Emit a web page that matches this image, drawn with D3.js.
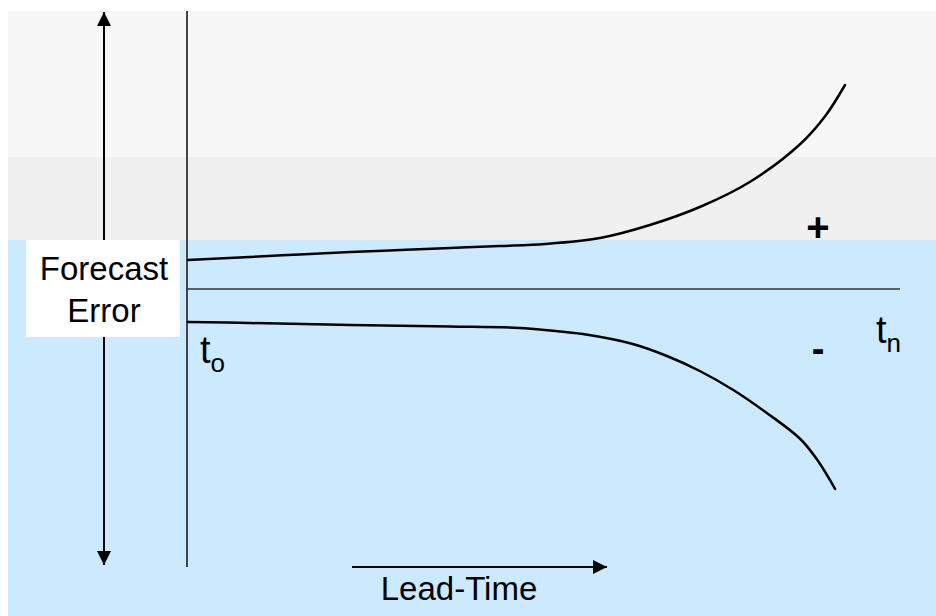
<!DOCTYPE html>
<html>
<head>
<meta charset="utf-8">
<script src="https://cdn.jsdelivr.net/npm/d3@7"></script>
<style>
  html, body { margin: 0; padding: 0; background: #ffffff; }
  svg { display: block; }
  text { font-family: "Liberation Sans", Arial, sans-serif; fill: #000; }
</style>
</head>
<body>
<svg id="chart" width="936" height="616"></svg>
<script>
// ---- data ----
const upperLead  = [0, 9.4, 17, 24.7, 32.3, 39.9, 47.5, 54.3, 62.7, 70.3, 77.9, 85.5, 93.2, 97.0, 100];
const upperError = [29, 32, 34.5, 37, 39, 41, 43, 45, 51, 64, 82, 107, 145, 173, 204];
const lowerLead  = [0, 9.4, 24.7, 39.9, 50.5, 55.1, 60.1, 67.7, 72.9, 77.9, 83, 88.1, 93.2, 95.9, 98.5];
const lowerError = [-33, -34, -36, -37.5, -39, -41.5, -45, -55, -67, -82, -101, -124, -150, -172, -200];
const yAxisLabel = ["Forecast", "Error"];
const xAxisLabel = "Lead-Time";
const startLabel = ["t", "o"];
const endLabel   = ["t", "n"];
const signLabels = ["+", "-"];

// ---- layout ----
const svg = d3.select("#chart");
const x = d3.scaleLinear().domain([0, 100]).range([188, 845]);
const y = d3.scaleLinear().domain([0, 200]).range([289, 89]);

// background bands
svg.append("rect").attr("x", 8).attr("y", 11).attr("width", 928).attr("height", 146).attr("fill", "#f7f7f7");
svg.append("rect").attr("x", 8).attr("y", 157).attr("width", 928).attr("height", 83).attr("fill", "#f0f0f0");
svg.append("rect").attr("x", 8).attr("y", 240).attr("width", 928).attr("height", 376).attr("fill", "#cceafd");

// markers
const defs = svg.append("defs");
defs.append("marker").attr("id", "arrow")
  .attr("viewBox", "0 0 10 10").attr("refX", 10).attr("refY", 5)
  .attr("markerWidth", 14).attr("markerHeight", 14).attr("markerUnits", "userSpaceOnUse")
  .attr("orient", "auto")
  .append("path").attr("d", "M0,0 L10,5 L0,10 Z").attr("fill", "#000");

// vertical double arrow (Forecast Error)
svg.append("line").attr("x1", 104).attr("x2", 104).attr("y1", 565).attr("y2", 12)
  .attr("stroke", "#000").attr("stroke-width", 2).attr("marker-end", "url(#arrow)");
svg.append("line").attr("x1", 104).attr("x2", 104).attr("y1", 12).attr("y2", 565)
  .attr("stroke", "#000").attr("stroke-width", 2).attr("marker-end", "url(#arrow)");

// y axis line
svg.append("line").attr("x1", x(0) - 1).attr("x2", x(0) - 1).attr("y1", 11).attr("y2", 567)
  .attr("stroke", "#444").attr("stroke-width", 2);

// zero line
svg.append("line").attr("x1", x(0) - 1).attr("x2", 900).attr("y1", y(0)).attr("y2", y(0))
  .attr("stroke", "#333").attr("stroke-width", 1.5);

// label box
svg.append("rect").attr("x", 26).attr("y", 240).attr("width", 154).attr("height", 97).attr("fill", "#ffffff");
svg.append("text").attr("x", 104).attr("y", 280).attr("text-anchor", "middle")
  .attr("font-size", 33).text(yAxisLabel[0]);
svg.append("text").attr("x", 104).attr("y", 322).attr("text-anchor", "middle")
  .attr("font-size", 33).text(yAxisLabel[1]);

// curves
const line = d3.line().x(d => x(d[0])).y(d => y(d[1])).curve(d3.curveCatmullRom.alpha(0.5));
svg.append("path").datum(d3.zip(upperLead, upperError)).attr("d", line)
  .attr("fill", "none").attr("stroke", "#000").attr("stroke-width", 2.5).attr("stroke-linecap", "round");
svg.append("path").datum(d3.zip(lowerLead, lowerError)).attr("d", line)
  .attr("fill", "none").attr("stroke", "#000").attr("stroke-width", 2.5).attr("stroke-linecap", "round");

// signs
svg.append("text").attr("x", 818).attr("y", 241).attr("text-anchor", "middle")
  .attr("font-size", 40).attr("font-weight", "bold").text(signLabels[0]);
svg.append("text").attr("x", 818).attr("y", 362).attr("text-anchor", "middle")
  .attr("font-size", 38).attr("font-weight", "bold").text(signLabels[1]);

// t_o and t_n
const t0 = svg.append("text").attr("x", 200).attr("y", 363).attr("font-size", 38);
t0.append("tspan").text(startLabel[0]);
t0.append("tspan").attr("font-size", 26).attr("dy", 9).text(startLabel[1]);
const tn = svg.append("text").attr("x", 876).attr("y", 343).attr("font-size", 38);
tn.append("tspan").text(endLabel[0]);
tn.append("tspan").attr("font-size", 26).attr("dy", 9).text(endLabel[1]);

// lead-time arrow
svg.append("line").attr("x1", 352).attr("x2", 607).attr("y1", 567).attr("y2", 567)
  .attr("stroke", "#000").attr("stroke-width", 2).attr("marker-end", "url(#arrow)");
svg.append("text").attr("x", 459).attr("y", 600).attr("text-anchor", "middle")
  .attr("font-size", 33).text(xAxisLabel);
</script>
</body>
</html>
